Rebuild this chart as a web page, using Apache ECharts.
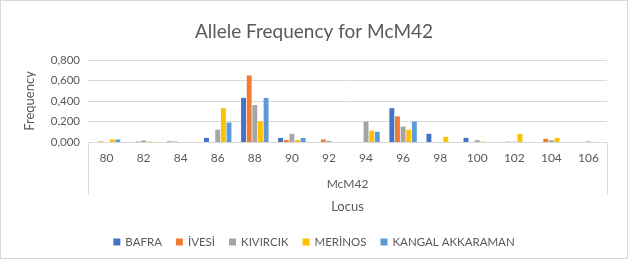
<!DOCTYPE html>
<html>
<head>
<meta charset="utf-8">
<script src="https://cdn.jsdelivr.net/npm/echarts@6/dist/echarts.min.js"></script>
<style>
  html, body { margin: 0; padding: 0; background: #fff; }
  #chart { width: 626px; height: 257px; border: 1px solid #d9d9d9; }
</style>
</head>
<body>
<div id="chart"></div>
<script>
const alleles = ['80', '82', '84', '86', '88', '90', '92', '94', '96', '98', '100', '102', '104', '106']
const bafra   = [0,     0,     0.005, 0.04, 0.43, 0.04, 0,     0,    0.33, 0.08, 0.04,  0,     0,     0]
const ivesi   = [0.005, 0.005, 0.005, 0,    0.65, 0.02, 0.025, 0,    0.25, 0,    0,     0.003, 0.03,  0]
const kivircik= [0,     0.015, 0,     0.12, 0.36, 0.08, 0.01,  0.2,  0.15, 0,    0.017, 0.003, 0.017, 0.006]
const merinos = [0.025, 0.005, 0,     0.33, 0.2,  0.02, 0,     0.11, 0.12, 0.05, 0.004, 0.08,  0.04,  0]
const kangal  = [0.025, 0,     0,     0.19, 0.43, 0.04, 0,     0.1,  0.2,  0,    0,     0,     0,     0]
const yTicks  = { min: 0, max: 0.8, step: 0.2 }

const font = 'Lato, "Liberation Sans", sans-serif'
const grey = '#595959'

const chart = echarts.init(document.getElementById('chart'))

function bar(name, data, color) {
  return { name, type: 'bar', data, itemStyle: { color }, barGap: '15%', barCategoryGap: '26%' }
}

chart.setOption({
  animation: false,
  textStyle: { fontFamily: font },
  title: {
    text: 'Allele Frequency for McM42',
    left: 'center', top: 16,
    textStyle: { fontFamily: font, fontSize: 19, fontWeight: 'normal', color: grey }
  },
  grid: { left: 87, right: 20, top: 59, bottom: 116 },
  legend: {
    bottom: 5, left: 'center',
    icon: 'rect', itemWidth: 7, itemHeight: 7, itemGap: 14,
    textStyle: { fontFamily: font, fontSize: 11.5, color: grey }
  },
  xAxis: [
    {
      type: 'category', data: alleles,
      axisLine: { lineStyle: { color: '#d9d9d9' } },
      axisTick: { show: false },
      axisLabel: { color: grey, fontSize: 12, margin: 10 }
    },
    {
      type: 'category', data: ['McM42'], position: 'bottom',
      name: 'Locus', nameLocation: 'middle', nameGap: 58,
      nameTextStyle: { color: grey, fontSize: 13 },
      axisLine: { show: false },
      axisTick: { show: true, length: 53, lineStyle: { color: '#d9d9d9' } },
      axisLabel: { color: grey, fontSize: 12, margin: 36 }
    }
  ],
  yAxis: {
    type: 'value', min: yTicks.min, max: yTicks.max, interval: yTicks.step,
    name: 'Frequency', nameLocation: 'middle', nameGap: 52,
    nameTextStyle: { color: grey, fontSize: 13 },
    axisLine: { show: false }, axisTick: { show: false },
    axisLabel: { color: grey, fontSize: 11.5, formatter: v => v.toFixed(3).replace('.', ',') },
    splitLine: { lineStyle: { color: '#d9d9d9' } }
  },
  series: [
    bar('BAFRA', bafra, '#4472C4'),
    bar('İVESİ', ivesi, '#ED7D31'),
    bar('KIVIRCIK', kivircik, '#A5A5A5'),
    bar('MERİNOS', merinos, '#FFC000'),
    bar('KANGAL AKKARAMAN', kangal, '#5B9BD5')
  ]
})
</script>
</body>
</html>
